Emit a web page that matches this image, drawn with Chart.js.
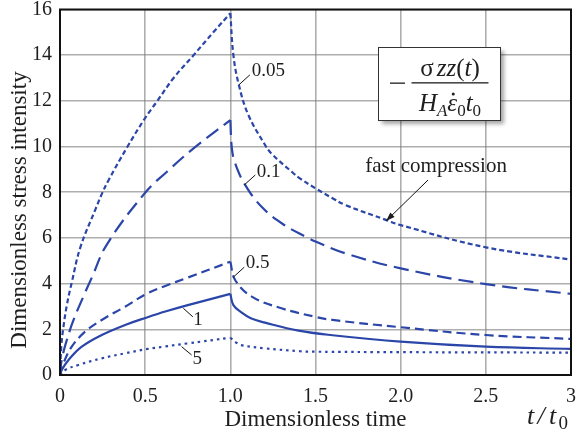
<!DOCTYPE html>
<html>
<head>
<meta charset="utf-8">
<script src="https://cdn.jsdelivr.net/npm/chart.js@4"></script>
<style>
  html, body { margin: 0; padding: 0; background: #fff; }
</style>
</head>
<body>
<canvas id="chart" width="577" height="436"></canvas>
<script>
// Stress response for several strain-rate ratios: loading up to t/t0 = 1, relaxation after
const time005 = [0, 0.008, 0.02, 0.04, 0.069, 0.12, 0.208, 0.247, 0.286, 0.394, 0.5, 0.569, 0.667, 0.784, 0.9, 1.0,
  1.018, 1.05, 1.106, 1.204, 1.243, 1.36, 1.41, 1.5, 1.6, 1.673, 1.917, 2.0, 2.5, 3.0];
const stress005 = [0, 1.3, 2.1, 3.05, 4.05, 5.6, 7.25, 7.95, 8.54, 9.97, 11.25, 11.97, 13.0, 14.0, 15.0, 15.84,
  14.0, 12.7, 11.38, 10.07, 9.68, 8.9, 8.6, 8.17, 7.74, 7.45, 6.78, 6.56, 5.59, 5.05];

const time01 = [0, 0.01, 0.04, 0.079, 0.138, 0.186, 0.274, 0.5, 0.628, 0.784, 1.0,
  1.009, 1.028, 1.087, 1.185, 1.31, 1.448, 1.5, 1.673, 2.0, 2.5, 3.0];
const stress01 = [0, 0.66, 1.53, 2.4, 3.45, 4.25, 5.7, 7.98, 8.9, 9.92, 11.16,
  9.92, 9.27, 8.32, 7.35, 6.6, 6.03, 5.84, 5.33, 4.67, 3.98, 3.55];

const time05 = [0, 0.02, 0.069, 0.148, 0.245, 0.382, 0.514, 0.618, 0.745, 1.0,
  1.028, 1.126, 1.3, 1.497, 1.6, 2.0, 2.5, 3.0];
const stress05 = [0, 0.51, 1.24, 1.9, 2.41, 2.99, 3.58, 3.9, 4.25, 4.96,
  4.16, 3.43, 2.92, 2.55, 2.41, 2.09, 1.75, 1.58];

const time1 = [0, 0.01, 0.05, 0.128, 0.245, 0.382, 0.514, 0.618, 0.745, 1.0,
  1.018, 1.067, 1.12, 1.204, 1.4, 1.6, 2.0, 2.5, 3.0];
const stress1 = [0, 0.22, 0.66, 1.24, 1.75, 2.19, 2.53, 2.78, 3.05, 3.55,
  3.06, 2.73, 2.48, 2.29, 1.94, 1.74, 1.46, 1.24, 1.14];

const time5 = [0, 0.03, 0.108, 0.245, 0.382, 0.514, 0.618, 0.745, 1.0,
  1.04, 1.06, 1.2, 1.41, 1.5, 2.0, 2.5, 3.0];
const stress5 = [0, 0.22, 0.44, 0.73, 0.95, 1.14, 1.25, 1.38, 1.63,
  1.39, 1.31, 1.17, 1.04, 1.02, 1.0, 0.99, 0.98];

const xTicks = [0, 0.5, 1, 1.5, 2, 2.5, 3];
const xTickLabels = ['0', '0.5', '1.0', '1.5', '2.0', '2.5', '3'];
const yTicks = [0, 2, 4, 6, 8, 10, 12, 14, 16];

const SERIF = "'Liberation Serif', 'Times New Roman', serif";
const INK = '#1e1e1e';
const BLUE = '#2b46a8';
const GRID = 'rgba(120,120,120,0.6)';

const series = [
  { label: '0.05', t: time005, v: stress005, dash: [5, 3] },
  { label: '0.1', t: time01, v: stress01, dash: [15, 7] },
  { label: '0.5', t: time05, v: stress05, dash: [9, 5] },
  { label: '1', t: time1, v: stress1, dash: [] },
  { label: '5', t: time5, v: stress5, dash: [2.5, 4] }
];

// split each curve at the end of loading so the peak stays sharp
const datasets = [];
series.forEach(s => {
  const pts = s.t.map((t, i) => ({ x: t, y: s.v[i] }));
  const parts = [pts.filter(p => p.x <= 1), pts.filter(p => p.x >= 1)];
  parts.forEach((data, k) => datasets.push({
    label: s.label + (k ? ' relaxation' : ' loading'),
    data,
    borderColor: BLUE,
    borderWidth: 2.2,
    borderDash: s.dash,
    pointRadius: 0,
    fill: false,
    tension: 0.4
  }));
});

// small labels with leader lines, anchored on the curves
const curveNotes = [
  { text: '0.05', t: 1.05, v: 12.7, lx: 11, ly: -10, tx: 13, ty: -14 },
  { text: '0.1', t: 1.082, v: 8.32, lx: 11, ly: -10, tx: 12.5, ty: -12.5 },
  { text: '0.5', t: 1.017, v: 4.28, lx: 11, ly: -10, tx: 12.5, ty: -14 },
  { text: '1', t: 0.724, v: 2.92, lx: 9.5, ly: 8.5, tx: 10, ty: 11.5 },
  { text: '5', t: 0.714, v: 1.24, lx: 10, ly: 8.3, tx: 11, ty: 12.5 }
];

function drawRun(ctx, parts, cx, base) {
  let w = 0;
  parts.forEach(p => { ctx.font = p.font; w += ctx.measureText(p.s).width + (p.gap || 0); });
  let x = cx - w / 2;
  parts.forEach(p => {
    ctx.font = p.font;
    ctx.fillText(p.s, x, base + (p.dy || 0));
    const pw = ctx.measureText(p.s).width;
    if (p.dot) {
      ctx.beginPath();
      ctx.arc(x + pw * 0.6, base - 17, 1.5, 0, Math.PI * 2);
      ctx.fill();
    }
    x += pw + (p.gap || 0);
  });
}

function drawFormula(ctx) {
  const bx = 378, by = 47, bw = 122, bh = 73;
  ctx.save();
  ctx.shadowColor = 'rgba(0,0,0,0.35)';
  ctx.shadowBlur = 4;
  ctx.shadowOffsetX = 4;
  ctx.shadowOffsetY = 4;
  ctx.fillStyle = '#fff';
  ctx.fillRect(bx, by, bw, bh);
  ctx.restore();
  ctx.strokeStyle = '#333';
  ctx.lineWidth = 1;
  ctx.strokeRect(bx + 0.5, by + 0.5, bw, bh);

  ctx.fillStyle = INK;
  ctx.fillRect(390, 82.5, 15, 1.3);
  ctx.fillRect(411.5, 82.2, 77, 1.3);
  ctx.textAlign = 'left';
  ctx.textBaseline = 'alphabetic';
  const it = `italic 25px ${SERIF}`, up = `25px ${SERIF}`;
  const sub = `17px ${SERIF}`, subIt = `italic 17px ${SERIF}`;
  drawRun(ctx, [
    { font: up, s: 'σ', gap: 3 }, { font: it, s: 'zz' }, { font: up, s: '(' },
    { font: it, s: 't' }, { font: up, s: ')' }
  ], 450, 76);
  drawRun(ctx, [
    { font: it, s: 'H' }, { font: subIt, s: 'A', dy: 5 }, { font: it, s: 'ε', dot: true },
    { font: sub, s: '0', dy: 5 }, { font: it, s: 't' }, { font: sub, s: '0', dy: 5 }
  ], 450, 111);
}

const decorations = {
  id: 'decorations',
  afterDraw(chart) {
    const { ctx, chartArea: a, scales: { x, y } } = chart;
    ctx.save();

    // plot frame
    ctx.strokeStyle = '#111';
    ctx.lineWidth = 2;
    ctx.strokeRect(a.left, a.top, a.right - a.left, a.bottom - a.top);

    // curve labels
    ctx.fillStyle = INK;
    ctx.strokeStyle = '#111';
    ctx.lineWidth = 1;
    ctx.font = `19px ${SERIF}`;
    ctx.textAlign = 'left';
    ctx.textBaseline = 'middle';
    curveNotes.forEach(n => {
      const px = x.getPixelForValue(n.t), py = y.getPixelForValue(n.v);
      ctx.beginPath();
      ctx.moveTo(px, py);
      ctx.lineTo(px + n.lx, py + n.ly);
      ctx.stroke();
      ctx.fillText(n.text, px + n.tx, py + n.ty);
    });

    // "fast compression" with arrow onto the 0.05 relaxation branch
    const ax = x.getPixelForValue(1.914), ay = y.getPixelForValue(6.74);
    const sx = ax + 42, sy = ay - 41;
    ctx.beginPath();
    ctx.moveTo(sx, sy);
    ctx.lineTo(ax, ay);
    ctx.stroke();
    const ang = Math.atan2(ay - sy, ax - sx);
    ctx.beginPath();
    ctx.moveTo(ax, ay);
    ctx.lineTo(ax - 9 * Math.cos(ang) + 3 * Math.sin(ang), ay - 9 * Math.sin(ang) - 3 * Math.cos(ang));
    ctx.lineTo(ax - 9 * Math.cos(ang) - 3 * Math.sin(ang), ay - 9 * Math.sin(ang) + 3 * Math.cos(ang));
    ctx.closePath();
    ctx.fill();
    ctx.font = `21px ${SERIF}`;
    ctx.textAlign = 'center';
    ctx.fillText('fast compression', ax + 50, ay - 55);

    drawFormula(ctx);

    // axis titles
    ctx.fillStyle = INK;
    ctx.save();
    ctx.translate(20, 210);
    ctx.rotate(-Math.PI / 2);
    ctx.font = `23px ${SERIF}`;
    ctx.textAlign = 'center';
    ctx.textBaseline = 'middle';
    ctx.fillText('Dimensionless stress intensity', 0, 0);
    ctx.restore();

    ctx.textAlign = 'left';
    ctx.textBaseline = 'alphabetic';
    ctx.font = `italic 26px ${SERIF}`;
    ctx.fillText('t', 527, 424);
    ctx.fillText('/', 537.5, 424);
    ctx.fillText('t', 549, 424);
    ctx.font = `19px ${SERIF}`;
    ctx.fillText('0', 558.5, 429);

    ctx.restore();
  }
};

new Chart(document.getElementById('chart'), {
  type: 'line',
  data: { datasets },
  plugins: [decorations],
  options: {
    responsive: false,
    animation: false,
    layout: { padding: { left: 0, right: 6, top: 9.5, bottom: 0 } },
    plugins: { legend: { display: false }, tooltip: { enabled: false } },
    scales: {
      x: {
        type: 'linear',
        min: 0,
        max: 3,
        afterBuildTicks(scale) { scale.ticks = xTicks.map(v => ({ value: v })); },
        afterFit(scale) { scale.height = 61; scale.paddingLeft = 0; scale.paddingRight = 0; },
        grid: { color: GRID, lineWidth: 1.6, drawTicks: false },
        border: { display: false },
        ticks: {
          padding: 10,
          color: INK,
          maxRotation: 0,
          autoSkip: false,
          font: { family: SERIF, size: 20 },
          callback: (v, i) => xTickLabels[i]
        },
        title: {
          display: true,
          text: 'Dimensionless time',
          color: INK,
          font: { family: SERIF, size: 23 },
          padding: { top: 0, bottom: 2 }
        }
      },
      y: {
        type: 'linear',
        min: 0,
        max: 16,
        afterBuildTicks(scale) { scale.ticks = yTicks.map(v => ({ value: v })); },
        afterFit(scale) { scale.width = 60; scale.paddingTop = 0; scale.paddingBottom = 0; },
        grid: { color: GRID, lineWidth: 1.6, drawTicks: false },
        border: { display: false },
        ticks: {
          padding: 8,
          color: INK,
          autoSkip: false,
          font: { family: SERIF, size: 20 },
          callback: (v) => String(v)
        }
      }
    }
  }
});
</script>
</body>
</html>
